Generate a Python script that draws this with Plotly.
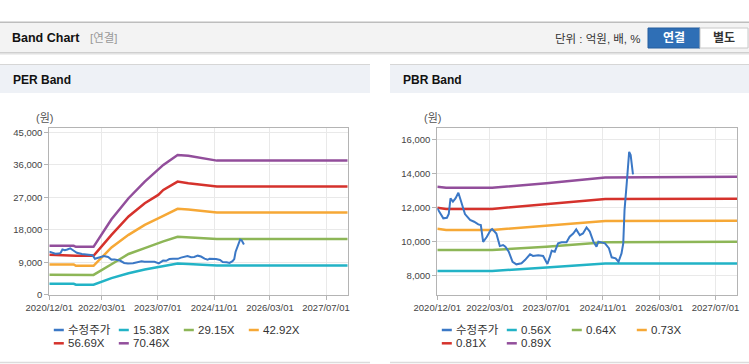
import plotly.graph_objects as go

W, H = 749, 364


def px(x):
    return x / W


def py(y):
    return 1 - y / H


# ---------------- data ----------------
price_dates = ["2020-12-01", "2021-01-22", "2021-02-22", "2021-03-10", "2021-03-25", "2021-04-15",
               "2021-05-07", "2021-06-01", "2021-06-22", "2021-07-28", "2021-09-10", "2021-10-15",
               "2021-11-20", "2021-12-12", "2022-01-01", "2022-02-01", "2022-03-07", "2022-03-20",
               "2022-04-25", "2022-05-25", "2022-06-22", "2022-07-12", "2022-08-10", "2022-09-12",
               "2022-10-15", "2022-11-28", "2022-12-28", "2023-02-10", "2023-03-07", "2023-04-22",
               "2023-06-03", "2023-07-10", "2023-08-01", "2023-08-16", "2023-09-12", "2023-10-10",
               "2023-11-10", "2023-12-22", "2024-01-18", "2024-02-18", "2024-03-15", "2024-04-15",
               "2024-05-12", "2024-06-12", "2024-07-10", "2024-08-10", "2024-09-06", "2024-09-22",
               "2024-11-18", "2024-12-22", "2025-01-15", "2025-02-18", "2025-03-15", "2025-04-10",
               "2025-04-25", "2025-05-06", "2025-05-25", "2025-06-15", "2025-06-28", "2025-07-10",
               "2025-07-18"]
price_values = [11950, 11370, 11400, 11620, 12540, 12350, 12540, 12870, 12410, 11620, 11270, 11170,
                11010, 10970, 9990, 10270, 10680, 10740, 10480, 9740, 9800, 9700, 9410, 8820,
                8670, 8730, 8920, 9260, 9160, 9200, 9160, 8690, 9120, 9470, 9410, 9900,
                9960, 9960, 10290, 10480, 10720, 10380, 10480, 10830, 10590, 10000, 9700, 10000,
                9900, 9620, 9080, 9020, 8820, 9310, 9900, 11850, 13420, 15270, 15080, 14400,
                13950]

per_band_dates = ["2020-12-01", "2021-07-01", "2021-07-20", "2021-12-20", "2022-05-25", "2022-10-20",
                  "2023-03-10", "2023-07-05", "2023-08-18", "2023-12-20", "2024-03-22", "2024-11-25",
                  "2028-01-05"]
per_15_38x = [3040, 3040, 2800, 2800, 4600, 5950, 7000, 7750, 7880, 8650, 8500, 8080, 8080]
per_29_15x = [5560, 5560, 5500, 5500, 8450, 11300, 12940, 14330, 14800, 16080, 15950, 15450, 15450]
per_42_92x = [8390, 8390, 8020, 8020, 13100, 16600, 19360, 21020, 21850, 23790, 23600, 22770, 22770]
per_56_69x = [11060, 10790, 10790, 10790, 16600, 21700, 25360, 27660, 29040, 31340, 30900, 29960, 29960]
per_70_46x = [13550, 13550, 13270, 13270, 20930, 26740, 31340, 34770, 35960, 38720, 38500, 37150, 37150]

pbr_band_dates = ["2020-12-01", "2021-02-15", "2022-03-20", "2023-07-01", "2024-11-20", "2028-01-05"]
pbr_0_56x = [8275, 8275, 8275, 8490, 8725, 8725]
pbr_0_64x = [9510, 9510, 9510, 9700, 9960, 9990]
pbr_0_73x = [10760, 10690, 10690, 10950, 11210, 11230]
pbr_0_81x = [11990, 11920, 11920, 12190, 12500, 12520]
pbr_0_89x = [13220, 13160, 13160, 13420, 13770, 13810]

per_names = ["수정주가", "15.38X", "29.15X", "42.92X", "56.69X", "70.46X"]
pbr_names = ["수정주가", "0.56X", "0.64X", "0.73X", "0.81X", "0.89X"]
series_colors = ["#3b78c6", "#22b3c6", "#8db657", "#f6a836", "#d5322c", "#924e9b"]

x_tick_vals = ["2020-12-01", "2022-03-01", "2023-07-01", "2024-11-01", "2026-03-01", "2027-07-01"]
x_tick_text = ["2020/12/01", "2022/03/01", "2023/07/01", "2024/11/01", "2026/03/01", "2027/07/01"]
x_range = ["2020-12-01", "2028-01-05"]
per_y_ticks = [0, 9000, 18000, 27000, 36000, 45000]
per_y_range = [-60, 46100]
pbr_y_ticks = [8000, 10000, 12000, 14000, 16000]
pbr_y_range = [6870, 16650]

# ---------------- figure ----------------
fig = go.Figure()

per_bands = [per_15_38x, per_29_15x, per_42_92x, per_56_69x, per_70_46x]
pbr_bands = [pbr_0_56x, pbr_0_64x, pbr_0_73x, pbr_0_81x, pbr_0_89x]

for i, vals in enumerate(per_bands):
    fig.add_trace(go.Scatter(x=per_band_dates, y=vals, mode="lines", name=per_names[i + 1],
                             line=dict(color=series_colors[i + 1], width=2.5),
                             xaxis="x", yaxis="y", showlegend=False, hoverinfo="skip"))
fig.add_trace(go.Scatter(x=price_dates, y=price_values, mode="lines", name=per_names[0],
                         line=dict(color=series_colors[0], width=2),
                         xaxis="x", yaxis="y", showlegend=False, hoverinfo="skip"))

for i, vals in enumerate(pbr_bands):
    fig.add_trace(go.Scatter(x=pbr_band_dates, y=vals, mode="lines", name=pbr_names[i + 1],
                             line=dict(color=series_colors[i + 1], width=2.5),
                             xaxis="x2", yaxis="y2", showlegend=False, hoverinfo="skip"))
fig.add_trace(go.Scatter(x=price_dates, y=price_values, mode="lines", name=pbr_names[0],
                         line=dict(color=series_colors[0], width=2),
                         xaxis="x2", yaxis="y2", showlegend=False, hoverinfo="skip"))

tick_font = dict(family="Liberation Sans, Arial, sans-serif", size=9.5, color="#444444")
axis_common = dict(showline=True, mirror=True, linecolor="#b4b4b4", linewidth=1,
                   showgrid=True, gridcolor="#e9e9e9", gridwidth=1, zeroline=False,
                   ticks="outside", ticklen=4, tickcolor="#b4b4b4", tickfont=tick_font,
                   fixedrange=True, automargin=False)

ydom = [py(295), py(128.3)]
left_dom = [px(49.3), px(347.7)]
right_dom = [px(437.3), px(737.3)]

fig.update_layout(
    width=W, height=H,
    margin=dict(l=0, r=0, t=0, b=0, pad=0, autoexpand=False),
    paper_bgcolor="white", plot_bgcolor="white",
    showlegend=False,
    xaxis=dict(domain=left_dom, anchor="y", type="date", range=x_range,
               tickvals=x_tick_vals, ticktext=x_tick_text, **axis_common),
    yaxis=dict(domain=ydom, anchor="x", range=per_y_range,
               tickvals=per_y_ticks, tickformat=",d", **axis_common),
    xaxis2=dict(domain=right_dom, anchor="y2", type="date", range=x_range,
                tickvals=x_tick_vals, ticktext=x_tick_text, **axis_common),
    yaxis2=dict(domain=ydom, anchor="x2", range=pbr_y_range,
                tickvals=pbr_y_ticks, tickformat=",d", **axis_common),
)

shapes = []
annotations = []
kfont = "Liberation Sans, Arial, Noto Sans CJK KR, sans-serif"


def rect(x0, y0, x1, y1, fill, line_color=None, lw=0):
    shapes.append(dict(type="rect", xref="paper", yref="paper",
                       x0=px(x0), x1=px(x1), y0=py(y1), y1=py(y0),
                       fillcolor=fill, line=dict(color=line_color or fill, width=lw), layer="below"))


def hline(x0, x1, y, color, width=1):
    shapes.append(dict(type="line", xref="paper", yref="paper",
                       x0=px(x0), x1=px(x1), y0=py(y), y1=py(y),
                       line=dict(color=color, width=width)))


def text(x, y, s, size=12, color="#222", bold=False, xanchor="left"):
    if bold:
        s = "<b>" + s + "</b>"
    annotations.append(dict(xref="paper", yref="paper", x=px(x), y=py(y), text=s,
                            showarrow=False, xanchor=xanchor, yanchor="middle",
                            font=dict(family=kfont, size=size, color=color)))


# top header bar
hline(0, W, 22.3, "#bdbdbd", 1.5)
rect(0, 23, W, 52, "#f3f3f3")
hline(0, W, 52.5, "#cfcfcf", 1)
hline(0, W, 53.5, "#e2e2e2", 1)
hline(0, W, 54.5, "#efefef", 1)
text(10, 38, "Band Chart", size=12.5, color="#111", bold=True)
text(88, 38.5, "[연결]", size=11.5, color="#999999")
text(643, 38.5, "단위 : 억원, 배, %", size=11.5, color="#333", xanchor="right")
rect(648, 28, 700, 48, "#2f6fb6", "#275f9e", 1)
rect(700, 28, 748, 48, "#ffffff", "#c8c8c8", 1)
text(674, 38.5, "연결", size=12, color="#ffffff", bold=True, xanchor="center")
text(724, 38.5, "별도", size=12, color="#333333", bold=True, xanchor="center")

# panel headers
for (x0, x1, title) in [(0, 370, "PER Band"), (390, W, "PBR Band")]:
    rect(x0, 65, x1, 93, "#eef1f6")
    hline(x0, x1, 64.5, "#d6d6d6", 1)
    hline(x0, x1, 362.5, "#dcdcdc", 1.5)
    text(x0 + 11, 79.5, title, size=12, color="#111", bold=True)

# unit labels
text(44, 118, "(원)", size=11, color="#555", xanchor="center")
text(432, 118, "(원)", size=11, color="#555", xanchor="center")

# legends (built from names/colours)
for left, names in [(49.3, per_names), (437.3, pbr_names)]:
    for i, (name, col) in enumerate(zip(names, series_colors)):
        c, r = i % 4, i // 4
        x0 = left + 4.5 + c * 65
        y = 330 + r * 13.3
        hline(x0, x0 + 10, y, col, 2.5)
        text(x0 + 12, y, name, size=11.5, color="#333")

fig.update_layout(shapes=shapes, annotations=annotations)

fig.write_html("out.html", config={"displayModeBar": False, "staticPlot": True},
               post_script="document.body.style.margin='0';")
